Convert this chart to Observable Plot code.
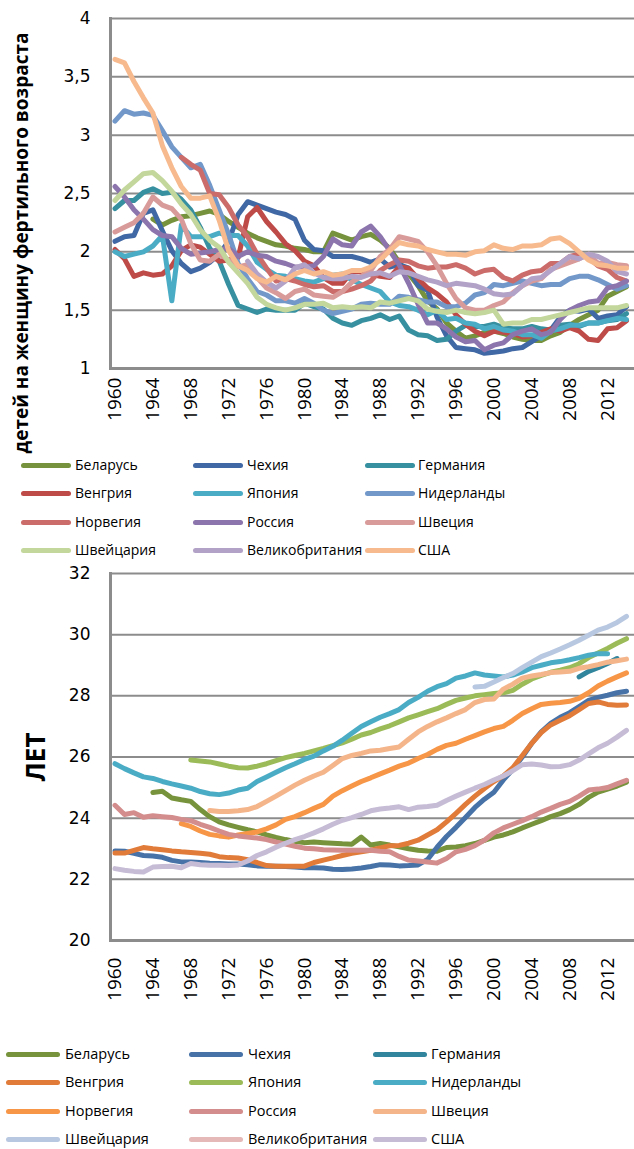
<!DOCTYPE html>
<html><head><meta charset="utf-8">
<script src="https://cdn.jsdelivr.net/npm/d3@7"></script>
<script src="https://cdn.jsdelivr.net/npm/@observablehq/plot@0.6"></script>
<style>
body{margin:0;background:#fff;}
#wrap{position:relative;width:634px;height:1149px;overflow:hidden;background:#fff;}
#wrap svg{position:absolute;left:0;}
.ttl{position:absolute;white-space:nowrap;font-family:"Open Sans",sans-serif;font-weight:700;color:#000;transform:translate(-50%,-50%) rotate(-90deg);line-height:1;}
.sw{position:absolute;height:5px;border-radius:3px;}
.lt{position:absolute;white-space:nowrap;font-family:"Open Sans",sans-serif;color:#000;line-height:1;transform:translateY(-50%);}
</style></head>
<body><div id="wrap"></div>
<script>
const years = [1960,1961,1962,1963,1964,1965,1966,1967,1968,1969,1970,1971,1972,1973,1974,1975,1976,1977,1978,1979,1980,1981,1982,1983,1984,1985,1986,1987,1988,1989,1990,1991,1992,1993,1994,1995,1996,1997,1998,1999,2000,2001,2002,2003,2004,2005,2006,2007,2008,2009,2010,2011,2012,2013,2014];
const xTickYears = [1960,1964,1968,1972,1976,1980,1984,1988,1992,1996,2000,2004,2008,2012];
const countries = ["Беларусь","Чехия","Германия","Венгрия","Япония","Нидерланды","Норвегия","Россия","Швеция","Швейцария","Великобритания","США"];
const fertTicks = [1,1.5,2,2.5,3,3.5,4];
const ageTicks = [20,22,24,26,28,30,32];
const fertTitle = "детей на женщину фертильного возраста";
const ageTitle = "ЛЕТ";
const fertColors = ["#76923C","#4068A4","#3690A0","#BE4B48","#4BACC6","#7298CA","#CB6C6A","#8C74AC","#D99B99","#C3D69B","#B3A2C7","#F7BA8E"];
const ageColors = ["#77933C","#4672A8","#31859C","#E07B39","#9BBB59","#4BACC6","#F79646","#D38D8C","#F5B58B","#B9C8E1","#E5B9B7","#C6BCD6"];

// Total fertility rate, 1960-2014 (null = no data)
const tfrBelarus = [null,null,null,null,2.28,2.23,2.27,2.30,2.31,2.33,2.35,2.32,2.26,2.21,2.16,2.12,2.09,2.06,2.05,2.03,2.02,2.00,2.00,2.16,2.13,2.10,2.13,2.15,2.10,2.03,1.91,1.81,1.71,1.58,1.51,1.39,1.32,1.26,1.28,1.31,1.32,1.30,1.27,1.25,1.24,1.24,1.28,1.31,1.37,1.42,1.46,1.50,1.62,1.66,1.70];
const tfrCzech = [2.09,2.13,2.14,2.33,2.36,2.18,2.01,1.90,1.83,1.86,1.91,1.98,2.09,2.32,2.43,2.40,2.37,2.34,2.32,2.28,2.10,2.02,2.01,1.96,1.96,1.96,1.94,1.91,1.94,1.87,1.89,1.86,1.71,1.67,1.44,1.28,1.18,1.17,1.16,1.13,1.14,1.15,1.17,1.18,1.23,1.28,1.33,1.44,1.50,1.49,1.51,1.43,1.45,1.46,1.53];
const tfrGermany = [2.37,2.44,2.44,2.51,2.54,2.50,2.51,2.45,2.36,2.21,2.03,1.92,1.72,1.54,1.51,1.48,1.51,1.50,1.50,1.50,1.56,1.53,1.51,1.43,1.39,1.37,1.41,1.43,1.46,1.42,1.45,1.33,1.29,1.28,1.24,1.25,1.32,1.37,1.36,1.36,1.38,1.35,1.34,1.34,1.36,1.34,1.33,1.37,1.38,1.36,1.39,1.39,1.41,1.42,1.47];
const tfrHungary = [2.02,1.94,1.79,1.82,1.80,1.81,1.88,2.01,2.06,2.04,1.98,1.92,1.93,1.95,2.30,2.38,2.26,2.17,2.07,2.01,1.92,1.88,1.78,1.73,1.73,1.83,1.83,1.81,1.79,1.78,1.87,1.86,1.77,1.69,1.64,1.57,1.46,1.38,1.32,1.28,1.32,1.31,1.30,1.27,1.28,1.31,1.34,1.32,1.35,1.32,1.25,1.24,1.34,1.35,1.41];
const tfrJapan = [2.00,1.96,1.98,2.00,2.05,2.14,1.58,2.23,2.13,2.13,2.13,2.16,2.14,2.14,2.05,1.91,1.85,1.80,1.79,1.77,1.75,1.74,1.77,1.80,1.81,1.76,1.72,1.69,1.66,1.57,1.54,1.53,1.50,1.46,1.50,1.42,1.43,1.39,1.38,1.34,1.36,1.33,1.32,1.29,1.29,1.26,1.32,1.34,1.37,1.37,1.39,1.39,1.41,1.43,1.42];
const tfrNetherlands = [3.12,3.21,3.18,3.19,3.17,3.04,2.90,2.81,2.72,2.75,2.57,2.36,2.15,1.90,1.77,1.66,1.63,1.58,1.58,1.56,1.60,1.56,1.50,1.47,1.49,1.51,1.55,1.56,1.55,1.55,1.62,1.61,1.59,1.57,1.57,1.53,1.53,1.56,1.63,1.65,1.72,1.71,1.73,1.75,1.73,1.71,1.72,1.72,1.77,1.79,1.79,1.76,1.72,1.68,1.71];
const tfrNorway = [null,null,null,null,null,null,null,2.81,2.75,2.70,2.50,2.49,2.38,2.23,2.13,1.98,1.86,1.75,1.77,1.75,1.72,1.70,1.71,1.66,1.66,1.68,1.71,1.75,1.84,1.89,1.93,1.92,1.88,1.86,1.87,1.87,1.89,1.86,1.81,1.84,1.85,1.78,1.75,1.80,1.83,1.84,1.90,1.90,1.96,1.98,1.95,1.88,1.85,1.78,1.75];
const tfrRussia = [2.56,2.47,2.36,2.28,2.19,2.14,2.13,2.03,1.98,1.99,2.00,2.02,2.03,1.96,2.00,1.97,1.96,1.92,1.90,1.87,1.87,1.88,1.96,2.11,2.06,2.05,2.17,2.22,2.13,2.01,1.89,1.73,1.55,1.39,1.39,1.34,1.27,1.23,1.24,1.16,1.20,1.22,1.29,1.32,1.34,1.29,1.31,1.42,1.50,1.54,1.57,1.58,1.69,1.71,1.75];
const tfrSweden = [2.17,2.21,2.25,2.33,2.47,2.40,2.37,2.28,2.07,1.93,1.92,1.98,1.93,1.87,1.89,1.78,1.69,1.65,1.60,1.66,1.68,1.63,1.62,1.61,1.66,1.74,1.79,1.84,1.96,2.02,2.13,2.11,2.09,2.00,1.88,1.73,1.60,1.52,1.50,1.50,1.54,1.57,1.65,1.71,1.75,1.77,1.85,1.88,1.91,1.94,1.98,1.90,1.91,1.89,1.88];
const tfrSwitzerland = [2.44,2.53,2.60,2.67,2.68,2.61,2.52,2.41,2.32,2.19,2.10,2.04,1.91,1.82,1.73,1.61,1.55,1.52,1.50,1.52,1.55,1.55,1.56,1.52,1.53,1.52,1.53,1.52,1.57,1.56,1.58,1.60,1.58,1.51,1.49,1.48,1.50,1.48,1.47,1.48,1.50,1.38,1.39,1.39,1.42,1.42,1.44,1.46,1.48,1.50,1.52,1.52,1.52,1.52,1.54];
const tfrUK = [null,null,null,null,null,null,null,null,null,null,null,null,null,null,1.92,1.81,1.74,1.69,1.75,1.86,1.89,1.82,1.78,1.77,1.77,1.79,1.78,1.81,1.82,1.79,1.83,1.82,1.79,1.76,1.74,1.71,1.73,1.72,1.71,1.68,1.64,1.63,1.64,1.71,1.77,1.78,1.84,1.90,1.96,1.94,1.98,1.96,1.92,1.83,1.81];
const tfrUSA = [3.65,3.62,3.46,3.32,3.19,2.91,2.72,2.56,2.46,2.46,2.48,2.27,2.01,1.88,1.84,1.77,1.74,1.79,1.76,1.81,1.84,1.81,1.83,1.80,1.81,1.84,1.84,1.87,1.93,2.01,2.08,2.06,2.05,2.02,2.00,1.98,1.98,1.97,2.00,2.01,2.06,2.03,2.02,2.05,2.05,2.06,2.11,2.12,2.07,2.00,1.93,1.89,1.88,1.86,1.86];

// Mean age of mother at first birth, 1960-2014 (null = no data)
const ageBelarus = [null,null,null,null,24.84,24.88,24.66,24.60,24.55,24.28,24.05,23.88,23.78,23.70,23.62,23.55,23.45,23.37,23.30,23.24,23.20,23.22,23.20,23.18,23.16,23.15,23.38,23.12,23.17,23.12,23.06,23.00,22.95,22.93,22.92,23.04,23.06,23.10,23.17,23.27,23.38,23.45,23.55,23.68,23.80,23.92,24.05,24.15,24.28,24.45,24.68,24.85,24.95,25.05,25.18];
const ageCzech = [22.93,22.92,22.85,22.78,22.76,22.72,22.62,22.57,22.57,22.55,22.53,22.52,22.50,22.50,22.48,22.44,22.43,22.43,22.42,22.40,22.38,22.38,22.37,22.33,22.32,22.34,22.37,22.42,22.48,22.47,22.44,22.45,22.47,22.65,23.05,23.40,23.70,24.02,24.35,24.62,24.85,25.25,25.60,26.00,26.45,26.82,27.10,27.30,27.45,27.65,27.85,27.95,28.02,28.10,28.15];
const ageGermany = [null,null,null,null,null,null,null,null,null,null,null,null,null,null,null,null,null,null,null,null,null,null,null,null,null,null,null,null,null,null,null,null,null,null,null,null,null,null,null,null,null,null,null,null,null,null,null,null,null,28.62,28.80,28.92,29.06,29.22,null];
const ageHungary = [22.86,22.86,22.95,23.04,23.00,22.97,22.93,22.90,22.88,22.85,22.82,22.74,22.71,22.70,22.64,22.55,22.45,22.43,22.43,22.43,22.43,22.55,22.63,22.70,22.78,22.85,22.90,22.95,23.03,23.10,23.11,23.18,23.28,23.45,23.62,23.88,24.16,24.45,24.72,24.97,25.20,25.38,25.65,26.05,26.45,26.80,27.05,27.20,27.35,27.55,27.75,27.80,27.72,27.69,27.70];
const ageJapan = [null,null,null,null,null,null,null,null,25.90,25.87,25.84,25.77,25.70,25.65,25.64,25.70,25.78,25.88,25.98,26.05,26.12,26.20,26.28,26.37,26.46,26.58,26.72,26.80,26.92,27.02,27.15,27.28,27.38,27.48,27.58,27.72,27.85,27.93,28.00,28.04,28.08,28.10,28.18,28.38,28.55,28.67,28.77,28.84,28.92,29.05,29.25,29.40,29.55,29.72,29.87];
const ageNetherlands = [25.78,25.62,25.48,25.35,25.30,25.20,25.12,25.05,24.98,24.87,24.80,24.77,24.82,24.92,24.98,25.20,25.35,25.50,25.65,25.78,25.92,26.03,26.20,26.35,26.55,26.78,27.00,27.15,27.30,27.42,27.55,27.78,27.95,28.15,28.30,28.40,28.58,28.65,28.75,28.68,28.65,28.62,28.68,28.78,28.92,29.00,29.08,29.12,29.18,29.25,29.33,29.38,29.38,null,null];
const ageNorway = [null,null,null,null,null,null,null,23.82,23.73,23.58,23.47,23.42,23.38,23.45,23.50,23.55,23.65,23.78,23.96,24.05,24.18,24.32,24.45,24.72,24.90,25.05,25.20,25.32,25.45,25.57,25.70,25.80,25.95,26.08,26.25,26.38,26.45,26.58,26.70,26.82,26.93,27.00,27.20,27.42,27.58,27.72,27.76,27.78,27.82,27.92,28.10,28.32,28.48,28.62,28.75];
const ageRussia = [24.42,24.12,24.18,24.03,24.08,24.05,24.02,23.96,23.92,23.80,23.70,23.58,23.47,23.42,23.38,23.35,23.30,23.22,23.15,23.08,23.02,23.00,22.97,22.96,22.95,22.95,22.95,22.95,22.92,22.90,22.75,22.63,22.60,22.57,22.53,22.68,22.90,22.98,23.10,23.28,23.52,23.68,23.80,23.92,24.05,24.20,24.32,24.45,24.55,24.72,24.92,24.95,25.00,25.12,25.24];
const ageSweden = [null,null,null,null,null,null,null,null,null,null,24.25,24.22,24.22,24.24,24.28,24.38,24.55,24.72,24.90,25.08,25.24,25.38,25.50,25.72,25.95,26.05,26.12,26.20,26.22,26.28,26.33,26.58,26.82,27.00,27.15,27.28,27.42,27.55,27.78,27.88,27.90,28.22,28.38,28.58,28.65,28.70,28.76,28.78,28.80,28.90,28.95,29.02,29.10,29.15,29.20];
const ageSwitzerland = [null,null,null,null,null,null,null,null,null,null,null,null,null,null,null,null,null,null,null,null,null,null,null,null,null,null,null,null,null,null,null,null,null,null,null,null,null,null,28.29,28.31,28.45,28.60,28.73,28.92,29.10,29.28,29.40,29.53,29.67,29.82,29.98,30.15,30.25,30.40,30.60];
const ageUK = [];
const ageUSA = [22.35,22.30,22.26,22.24,22.40,22.42,22.43,22.38,22.52,22.48,22.46,22.46,22.45,22.47,22.60,22.78,22.90,23.05,23.18,23.30,23.40,23.52,23.65,23.80,23.93,24.02,24.12,24.24,24.30,24.33,24.37,24.28,24.36,24.38,24.42,24.58,24.72,24.85,24.98,25.10,25.25,25.38,25.55,25.75,25.77,25.74,25.68,25.69,25.75,25.90,26.10,26.30,26.45,26.65,26.87];

const tfrSeries = [tfrBelarus,tfrCzech,tfrGermany,tfrHungary,tfrJapan,tfrNetherlands,tfrNorway,tfrRussia,tfrSweden,tfrSwitzerland,tfrUK,tfrUSA];
const ageSeries = [ageBelarus,ageCzech,ageGermany,ageHungary,ageJapan,ageNetherlands,ageNorway,ageRussia,ageSweden,ageSwitzerland,ageUK,ageUSA];

function toRows(series) {
  const rows = [];
  series.forEach((vals, i) => {
    years.forEach((yr, j) => {
      const v = vals[j];
      if (v != null) rows.push({country: countries[i], year: yr, value: v});
    });
  });
  return rows;
}

const wrap = document.getElementById("wrap");
const xDomain = [1959.525, 2014.845];
const gridColor = "#8c8c8c";

function makeChart({rows, colors, yDomain, yTicks, yFormat, height, marginTop, marginBottom, xPad}) {
  return Plot.plot({
    width: 634, height, marginLeft: 110, marginRight: 0, marginTop, marginBottom,
    style: {background: "#fff", color: "#000", overflow: "visible"},
    x: {domain: xDomain},
    y: {domain: yDomain},
    color: {domain: countries, range: colors},
    marks: [
      Plot.gridY(yTicks, {stroke: gridColor, strokeOpacity: 1, strokeWidth: 2}),
      Plot.frame({anchor: "left", stroke: gridColor, strokeWidth: 3}),
      Plot.frame({anchor: "bottom", stroke: gridColor, strokeWidth: 3}),
      Plot.axisY({ticks: yTicks, tickFormat: yFormat, tickSize: 0, tickPadding: 20, fontSize: 17, fontFamily: "DejaVu Sans", label: null}),
      Plot.axisX({ticks: xTickYears, tickFormat: d => String(d), tickRotate: -90, tickSize: 0, tickPadding: xPad, fontSize: 19, fontFamily: "Open Sans", label: null}),
      Plot.line(rows, {x: "year", y: "value", z: "country", stroke: "country", strokeWidth: 5, strokeLinejoin: "round", strokeLinecap: "round"})
    ]
  });
}

const topChart = makeChart({rows: toRows(tfrSeries), colors: fertColors, yDomain: [1, 4], yTicks: fertTicks,
  yFormat: d => String(d).replace(".", ","), height: 430, marginTop: 18, marginBottom: 62, xPad: 9});
topChart.style.top = "0px";
wrap.appendChild(topChart);

const botChart = makeChart({rows: toRows(ageSeries), colors: ageColors, yDomain: [20, 32], yTicks: ageTicks,
  yFormat: d => String(d), height: 448, marginTop: 11, marginBottom: 70, xPad: 17});
botChart.style.top = "562px";
wrap.appendChild(botChart);

function addTitle(text, cx, cy, size) {
  const d = document.createElement("div");
  d.className = "ttl";
  d.textContent = text;
  d.style.left = cx + "px";
  d.style.top = cy + "px";
  d.style.fontSize = size + "px";
  wrap.appendChild(d);
}
addTitle(fertTitle, 21, 243, 19);
addTitle(ageTitle, 35, 757, 26);

function addLegend(colors, rowY, swX, swW, txX, size) {
  countries.forEach((name, i) => {
    const r = Math.floor(i / 3), c = i % 3;
    const s = document.createElement("div");
    s.className = "sw";
    s.style.left = swX[c] + "px";
    s.style.top = (rowY[r] - 2.5) + "px";
    s.style.width = swW + "px";
    s.style.background = colors[i];
    wrap.appendChild(s);
    const t = document.createElement("div");
    t.className = "lt";
    t.textContent = name;
    t.style.left = txX[c] + "px";
    t.style.top = rowY[r] + "px";
    t.style.fontSize = size + "px";
    wrap.appendChild(t);
  });
}
addLegend(fertColors, [465, 493, 522, 550], [21, 193, 365], 50, [75, 247, 418], 14);
addLegend(ageColors, [1054, 1082, 1111, 1139], [6, 189, 373], 54, [65, 248, 431], 14.5);
</script>
</body></html>
